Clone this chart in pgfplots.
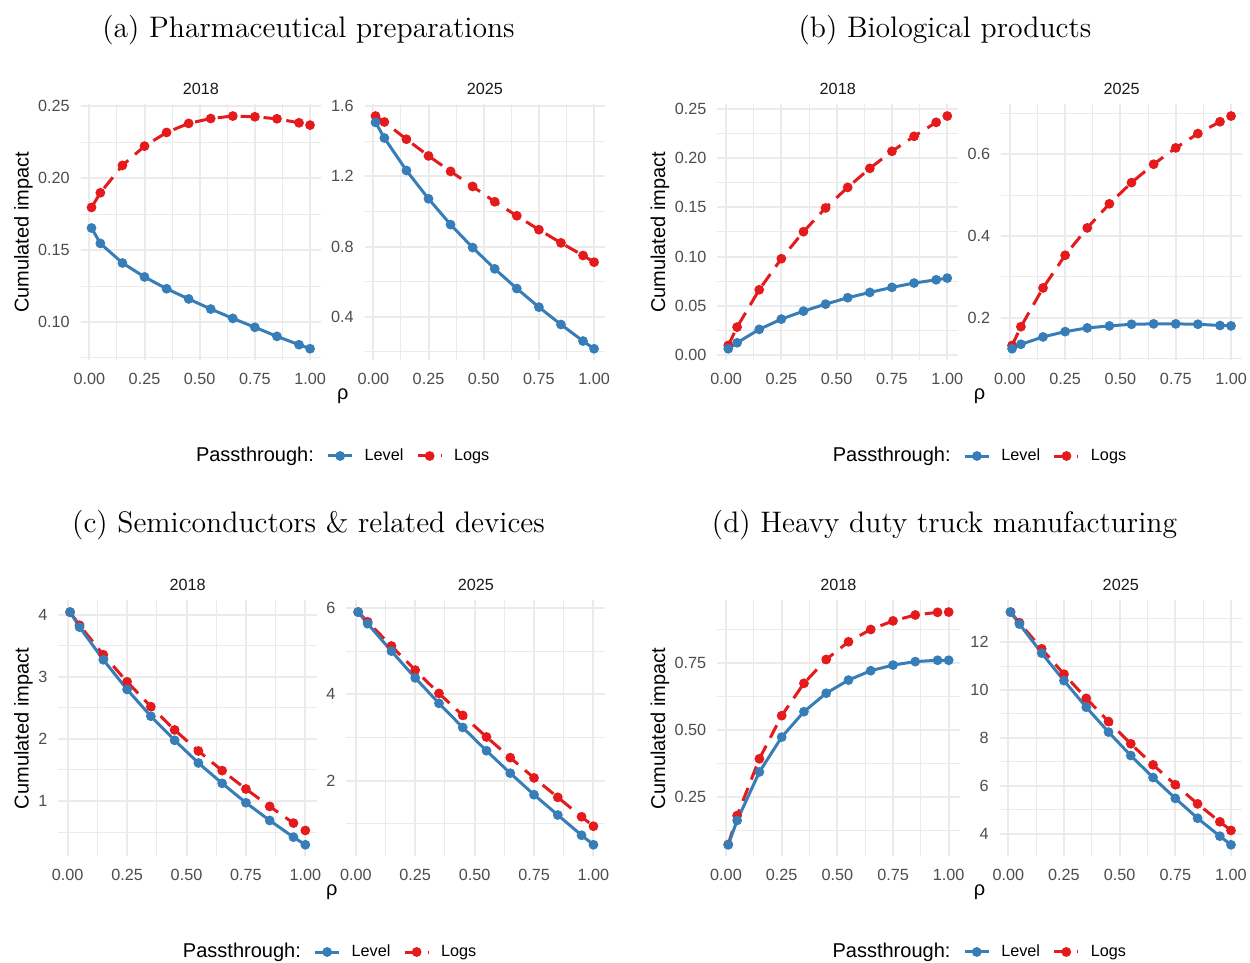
\documentclass[border=0pt]{standalone}
\usepackage{fontspec}
\usepackage{pgfplots}
\usepackage{pgfplotstable}
\pgfplotsset{compat=1.18}

\newfontfamily\arial{Liberation Sans}
\newcommand\ticksans{\arial\fontsize{8.1bp}{9.7bp}\selectfont}
\newcommand\titlesans{\arial\fontsize{10bp}{12bp}\selectfont}
\newcommand\paneltitle{\fontsize{14.84bp}{17bp}\selectfont}

\definecolor{levelblue}{HTML}{377EB8}
\definecolor{logsred}{HTML}{E41A1C}
\definecolor{gridgray}{HTML}{EBEBEB}
\definecolor{tickgray}{HTML}{4D4D4D}
\definecolor{stripgray}{HTML}{1A1A1A}

% Cumulated impact by pass-through parameter rho
\pgfplotstableread{
rho   level   logs
0.01  0.1653  0.1796
0.05  0.1546  0.1898
0.15  0.1410  0.2088
0.25  0.1313  0.2222
0.35  0.1231  0.2317
0.45  0.1160  0.2380
0.55  0.1090  0.2414
0.65  0.1025  0.2431
0.75  0.0963  0.2426
0.85  0.0900  0.2412
0.95  0.0842  0.2384
1.00  0.0814  0.2368
}\pharmaA
\pgfplotstableread{
rho   level   logs
0.01  1.507   1.543
0.05  1.418   1.509
0.15  1.233   1.411
0.25  1.072   1.316
0.35  0.925   1.228
0.45  0.794   1.142
0.55  0.673   1.055
0.65  0.561   0.975
0.75  0.455   0.896
0.85  0.356   0.821
0.95  0.262   0.749
1.00  0.218   0.711
}\pharmaB
\pgfplotstableread{
rho   level   logs
0.01  0.0064  0.0098
0.05  0.0125  0.0284
0.15  0.0261  0.0663
0.25  0.0365  0.0978
0.35  0.0446  0.1252
0.45  0.0517  0.1493
0.55  0.0582  0.1702
0.65  0.0636  0.1895
0.75  0.0687  0.2068
0.85  0.0731  0.2220
0.95  0.0764  0.2362
1.00  0.0781  0.2426
}\bioA
\pgfplotstableread{
rho   level   logs
0.01  0.124   0.132
0.05  0.135   0.178
0.15  0.153   0.273
0.25  0.166   0.353
0.35  0.175   0.420
0.45  0.180   0.479
0.55  0.184   0.531
0.65  0.185   0.576
0.75  0.185   0.616
0.85  0.184   0.651
0.95  0.181   0.680
1.00  0.180   0.694
}\bioB
\pgfplotstableread{
rho   level   logs
0.01  4.043   4.040
0.05  3.800   3.830
0.15  3.274   3.355
0.25  2.796   2.920
0.35  2.366   2.520
0.45  1.978   2.145
0.55  1.613   1.806
0.65  1.285   1.490
0.75  0.973   1.194
0.85  0.688   0.914
0.95  0.419   0.645
1.00  0.296   0.527
}\semiA
\pgfplotstableread{
rho   level   logs
0.01  5.907   5.907
0.05  5.636   5.680
0.15  5.000   5.120
0.25  4.380   4.560
0.35  3.790   4.020
0.45  3.230   3.510
0.55  2.690   3.010
0.65  2.170   2.530
0.75  1.670   2.060
0.85  1.200   1.610
0.95  0.730   1.160
1.00  0.510   0.940
}\semiB
\pgfplotstableread{
rho   level   logs
0.01  0.072   0.073
0.05  0.163   0.181
0.15  0.344   0.393
0.25  0.474   0.554
0.35  0.569   0.675
0.45  0.638   0.764
0.55  0.687   0.830
0.65  0.722   0.876
0.75  0.743   0.908
0.85  0.756   0.930
0.95  0.761   0.940
1.00  0.761   0.941
}\truckA
\pgfplotstableread{
rho   level   logs
0.01  13.257  13.257
0.05  12.754  12.810
0.15  11.540  11.720
0.25  10.390  10.660
0.35  9.280   9.650
0.45  8.240   8.680
0.55  7.260   7.750
0.65  6.340   6.870
0.75  5.470   6.040
0.85  4.640   5.240
0.95  3.890   4.490
1.00  3.530   4.130
}\truckB

\pgfplotsset{
  facet/.style={
    scale only axis, height=128bp, anchor=north west,
    xmin=-0.0395, xmax=1.0495,
    xtick={0,0.25,0.5,0.75,1},
    minor xtick={0.125,0.375,0.625,0.875},
    grid=both,
    major grid style={draw=gridgray, line width=1bp},
    minor grid style={draw=gridgray, line width=0.5bp},
    axis line style={draw=none},
    major tick length=0pt, minor tick length=0pt,
    tick style={draw=none},
    scaled ticks=false,
    /pgf/number format/assume math mode=true,
    tick label style={font=\ticksans, text=tickgray, inner sep=0pt},
    xticklabel style={anchor=base, yshift=-12.25bp,
      /pgf/number format/fixed, /pgf/number format/fixed zerofill,
      /pgf/number format/precision=2},
    yticklabel style={anchor=east, xshift=-5.3bp},
    every axis title/.style={at={(0.5,1)}, anchor=base, yshift=4.75bp,
      inner sep=0pt, font=\ticksans, text=stripgray},
    clip=false,
    legend columns=3,
    legend image code/.code={\draw[mark repeat=2,mark phase=2,##1]
      plot coordinates {(0bp,0bp) (6bp,0bp) (12bp,0bp)};},
    legend style={draw=none, fill=none, anchor=west, font=\ticksans,
      inner sep=0pt, outer sep=0pt, nodes={inner sep=0pt},
      /tikz/every odd column/.append style={column sep=5.5bp},
      /tikz/every even column/.append style={column sep=6.4bp}},
  },
  yfix/.style={yticklabel style={/pgf/number format/fixed,
      /pgf/number format/fixed zerofill, /pgf/number format/precision=#1}},
  level/.style={levelblue, line width=1.5bp, mark=*, mark size=1.65bp,
    mark options={solid}},
  logs/.style={logsred, line width=1.5bp, dash pattern=on 7bp off 4.5bp,
    mark=*, mark size=1.65bp, mark options={solid}},
}

\newcommand\passlegend{%
  \addlegendimage{empty legend}
  \addlegendentry{\titlesans Passthrough:}
  \addlegendimage{level}
  \addlegendentry{Level}
  \addlegendimage{logs}
  \addlegendentry{Logs}
}
\newcommand\pair[1]{%
  \addplot[logs, forget plot] table[x=rho, y=logs] {#1};
  \addplot[level, forget plot] table[x=rho, y=level] {#1};
}

\begin{document}
\begin{tikzpicture}
\useasboundingbox (0,0) rectangle (625bp,-481.5bp);

% ---------- (a) Pharmaceutical preparations ----------
\node[anchor=base, font=\paneltitle] at (154.25bp,-18.65bp) {(a) Pharmaceutical preparations};
\begin{axis}[facet, at={(40.3bp,-52.2bp)}, width=120.2bp, title={2018},
    ymin=0.0733, ymax=0.2512, ytick={0.10,0.15,0.20,0.25},
    minor ytick={0.075,0.125,0.175,0.225}, yfix=2,
    legend style={at={(0.4343,-0.3734)}}]
  \passlegend
  \pair{\pharmaA}
\end{axis}
\begin{axis}[facet, at={(182.3bp,-52.2bp)}, width=120.2bp, title={2025},
    ymin=0.1518, ymax=1.6093, ytick={0.4,0.8,1.2,1.6},
    minor ytick={0.2,0.6,1.0,1.4}, yfix=1]
  \pair{\pharmaB}
\end{axis}
\node[anchor=center, rotate=90, font=\titlesans] at (11.75bp,-116.2bp) {Cumulated impact};
\node[anchor=base, font=\titlesans] at (171.4bp,-199.5bp) {ρ};

% ---------- (b) Biological products ----------
\node[anchor=base, font=\paneltitle] at (472.5bp,-18.65bp) {(b) Biological products};
\begin{axis}[facet, at={(358.65bp,-52.2bp)}, width=120.45bp, title={2018},
    ymin=-0.0054, ymax=0.2544, ytick={0,0.05,0.10,0.15,0.20,0.25},
    minor ytick={0.025,0.075,0.125,0.175,0.225}, yfix=2,
    legend style={at={(0.4338,-0.3734)}}]
  \passlegend
  \pair{\bioA}
\end{axis}
\begin{axis}[facet, at={(500.55bp,-52.2bp)}, width=120.45bp, title={2025},
    ymin=0.0955, ymax=0.7225, ytick={0.2,0.4,0.6},
    minor ytick={0.1,0.3,0.5,0.7}, yfix=1]
  \pair{\bioB}
\end{axis}
\node[anchor=center, rotate=90, font=\titlesans] at (330bp,-116.2bp) {Cumulated impact};
\node[anchor=base, font=\titlesans] at (489.8bp,-199.5bp) {ρ};

% ---------- (c) Semiconductors ----------
\node[anchor=base, font=\paneltitle] at (154.25bp,-266.15bp) {(c) Semiconductors \& related devices};
\begin{axis}[facet, at={(29.15bp,-300.2bp)}, width=129.4bp, title={2018},
    ymin=0.109, ymax=4.230, ytick={1,2,3,4},
    minor ytick={0.5,1.5,2.5,3.5}, yfix=0,
    legend style={at={(0.4393,-0.3734)}}]
  \passlegend
  \pair{\semiA}
\end{axis}
\begin{axis}[facet, at={(173.2bp,-300.2bp)}, width=129.4bp, title={2025},
    ymin=0.240, ymax=6.177, ytick={2,4,6},
    minor ytick={1,3,5}, yfix=0]
  \pair{\semiB}
\end{axis}
\node[anchor=center, rotate=90, font=\titlesans] at (11.75bp,-364.2bp) {Cumulated impact};
\node[anchor=base, font=\titlesans] at (165.85bp,-447.5bp) {ρ};

% ---------- (d) Heavy duty trucks ----------
\node[anchor=base, font=\paneltitle] at (472.25bp,-266.15bp) {(d) Heavy duty truck manufacturing};
\begin{axis}[facet, at={(358.6bp,-300.2bp)}, width=121.25bp, title={2018},
    ymin=0.0286, ymax=0.9845, ytick={0.25,0.50,0.75},
    minor ytick={0.125,0.375,0.625,0.875}, yfix=2,
    legend style={at={(0.4305,-0.3734)}}]
  \passlegend
  \pair{\truckA}
\end{axis}
\begin{axis}[facet, at={(499.75bp,-300.2bp)}, width=121.25bp, title={2025},
    ymin=3.044, ymax=13.743, ytick={4,6,8,10,12},
    minor ytick={3,5,7,9,11,13}, yfix=0]
  \pair{\truckB}
\end{axis}
\node[anchor=center, rotate=90, font=\titlesans] at (330bp,-364.2bp) {Cumulated impact};
\node[anchor=base, font=\titlesans] at (489.8bp,-447.5bp) {ρ};
\end{tikzpicture}
\end{document}
